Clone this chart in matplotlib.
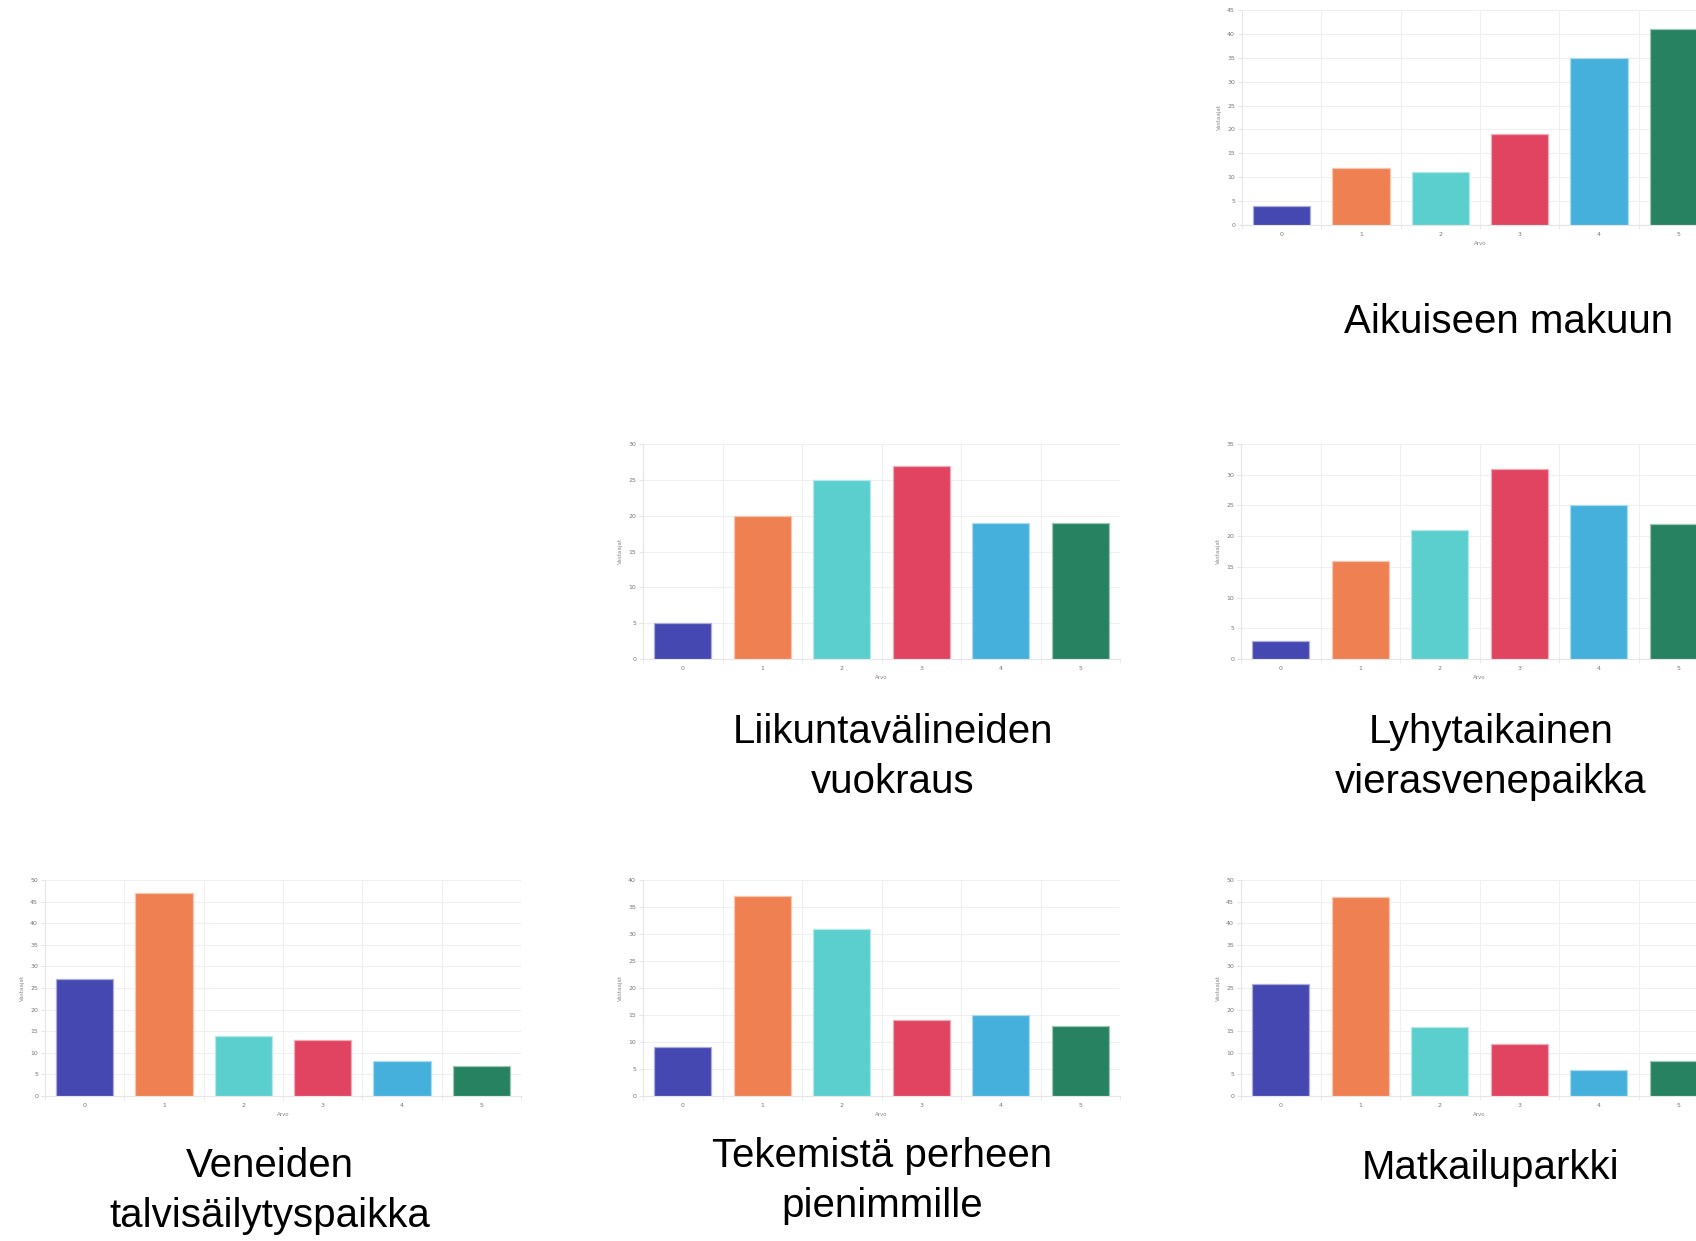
import matplotlib
matplotlib.use('Agg')  # no display
import matplotlib.pyplot as plt
import matplotlib.colors as mcolors
import numpy as np

# values, one list per chart
categories = [0, 1, 2, 3, 4, 5]
titles = [
    "Aikuiseen makuun",
    "Liikuntavälineiden\nvuokraus",
    "Lyhytaikainen\nvierasvenepaikka",
    "Veneiden\ntalvisäilytyspaikka",
    "Tekemistä perheen\npienimmille",
    "Matkailuparkki",
]
aikuiseen = [4, 12, 11, 19, 35, 41]
liikunta = [5, 20, 25, 27, 19, 19]
lyhytaikainen = [3, 16, 21, 31, 25, 22]
veneiden = [27, 47, 14, 13, 8, 7]
tekemista = [9, 37, 31, 14, 15, 13]
matkailu = [26, 46, 16, 12, 6, 8]
y_max = [45, 30, 35, 50, 40, 50]
x_label = "Arvo"
y_label = "Vastaajat"

bar_colors = ['#4548b0', '#ee8052', '#5bcece', '#e04461', '#46b0dd', '#268260']

W, H = 1696, 1241
# layout in pixels: (left, top, right, bottom) of the axes, title centre x, first baseline y
layout = [
    ((1242, 10, 1718, 225), 1509, 333),
    ((643, 444, 1120, 659), 893, 743),
    ((1241, 444, 1718, 659), 1491, 743),
    ((45, 880, 521, 1096), 270, 1177),
    ((643, 880, 1120, 1096), 882, 1167),
    ((1241, 880, 1718, 1096), 1491, 1179),
]
series = [aikuiseen, liikunta, lyhytaikainen, veneiden, tekemista, matkailu]

fig = plt.figure(figsize=(W / 100, H / 100), dpi=100)
fig.patch.set_facecolor('white')


def lighten(c, amount=0.55):
    r, g, b = mcolors.to_rgb(c)
    return (r + (1 - r) * amount, g + (1 - g) * amount, b + (1 - b) * amount)


for (rect, tx, ty), values, title, ymax in zip(layout, series, titles, y_max):
    l, t, r, b = rect
    ax = fig.add_axes([l / W, 1 - b / H, (r - l) / W, (b - t) / H])
    ax.bar(categories, values, width=0.72, color=bar_colors,
           edgecolor=[lighten(c) for c in bar_colors], linewidth=0.9, zorder=3)
    ax.set_xlim(-0.5, 5.5)
    ax.set_ylim(0, ymax)
    ax.set_yticks(np.arange(0, ymax + 1, 5))
    ax.set_xticks(categories)
    ax.set_xticks(np.arange(-0.5, 6, 1), minor=True)
    ax.grid(True, which='major', axis='y', color='#f0f0f0', lw=0.8, zorder=0)
    ax.grid(True, which='minor', axis='x', color='#f0f0f0', lw=0.8, zorder=0)
    ax.tick_params(axis='x', which='major', length=0, labelsize=4.5,
                   labelcolor='#777777', pad=5)
    ax.tick_params(axis='x', which='minor', length=3, color='#e6e6e6')
    ax.tick_params(axis='y', length=3, color='#e6e6e6', labelsize=4.5,
                   labelcolor='#777777', pad=2)
    for side in ['top', 'right']:
        ax.spines[side].set_visible(False)
    for side in ['left', 'bottom']:
        ax.spines[side].set_color('#e6e6e6')
        ax.spines[side].set_linewidth(0.8)
    ax.set_xlabel(x_label, fontsize=4, color='#888888', labelpad=3)
    ax.set_ylabel(y_label, fontsize=4, color='#888888', labelpad=4)

    # chart name below, one text per line
    for i, line in enumerate(title.split('\n')):
        fig.text(tx / W, 1 - (ty + i * 50) / H, line, ha='center', va='baseline',
                 fontsize=29, family=['Liberation Sans', 'DejaVu Sans'],
                 color='black')

fig.savefig('out.png', dpi=100, facecolor='white')
plt.close(fig)
